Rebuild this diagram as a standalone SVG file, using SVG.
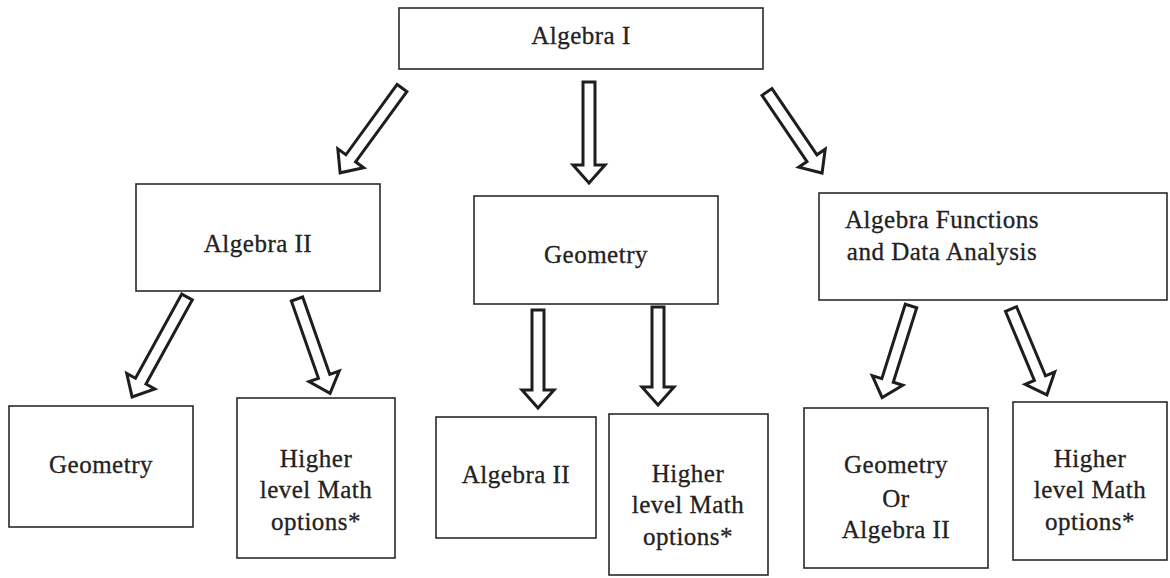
<svg xmlns="http://www.w3.org/2000/svg" width="1170" height="578" viewBox="0 0 1170 578">
<style>
.box{fill:#fff;stroke:#2a2a2a;stroke-width:1.6}
.lbl{font-family:'Liberation Serif','DejaVu Serif',serif;font-size:25px;letter-spacing:0.5px;fill:#222;stroke:#222;stroke-width:0.3;text-anchor:middle}
.arr{fill:#fff;stroke:#1e1e1e;stroke-width:3;stroke-linejoin:miter}
</style>
<rect width="1170" height="578" fill="#fff"/>
<g id="connectors">
<path class="arr" transform="translate(402,88) rotate(36.1)" d="M-6,0 H6 V87 H16 L0,105 L-16,87 H-6 Z"/>
<path class="arr" transform="translate(589,82)" d="M-6,0 H6 V83 H16 L0,101 L-16,83 H-6 Z"/>
<path class="arr" transform="translate(767,92) rotate(-34.2)" d="M-6,0 H6 V80 H16 L0,98 L-16,80 H-6 Z"/>
<path class="arr" transform="translate(187,297) rotate(28.8)" d="M-6,0 H6 V96 H16 L0,114 L-16,96 H-6 Z"/>
<path class="arr" transform="translate(297,299) rotate(-19.3)" d="M-6,0 H6 V82 H16 L0,100 L-16,82 H-6 Z"/>
<path class="arr" transform="translate(538,310)" d="M-6,0 H6 V80 H16 L0,98 L-16,80 H-6 Z"/>
<path class="arr" transform="translate(658,307)" d="M-6,0 H6 V80 H16 L0,98 L-16,80 H-6 Z"/>
<path class="arr" transform="translate(911,306) rotate(17.5)" d="M-6,0 H6 V78 H16 L0,96 L-16,78 H-6 Z"/>
<path class="arr" transform="translate(1011,309) rotate(-22.7)" d="M-6,0 H6 V75 H16 L0,93 L-16,75 H-6 Z"/>
</g>
<g id="algebra1"><rect class="box" x="399" y="8" width="364" height="61"/><text class="lbl" x="581" y="44">Algebra I</text></g>
<g id="algebra2"><rect class="box" x="136" y="184" width="244" height="107"/><text class="lbl" x="258" y="252">Algebra II</text></g>
<g id="geometry"><rect class="box" x="474" y="196" width="244" height="108"/><text class="lbl" x="596" y="263">Geometry</text></g>
<g id="afda"><rect class="box" x="819" y="193" width="348" height="107"/><text class="lbl" x="942" y="228">Algebra Functions</text><text class="lbl" x="942" y="260">and Data Analysis</text></g>
<g id="a2-geometry"><rect class="box" x="9" y="406" width="184" height="121"/><text class="lbl" x="101" y="473">Geometry</text></g>
<g id="a2-higher"><rect class="box" x="237" y="398" width="158" height="160"/><text class="lbl" x="316" y="467">Higher</text><text class="lbl" x="316" y="498">level Math</text><text class="lbl" x="316" y="530">options*</text></g>
<g id="geo-algebra2"><rect class="box" x="436" y="417" width="160" height="121"/><text class="lbl" x="516" y="483">Algebra II</text></g>
<g id="geo-higher"><rect class="box" x="609" y="414" width="159" height="161"/><text class="lbl" x="688" y="482">Higher</text><text class="lbl" x="688" y="513">level Math</text><text class="lbl" x="688" y="545">options*</text></g>
<g id="afda-geo-or-alg2"><rect class="box" x="804" y="408" width="184" height="160"/><text class="lbl" x="896" y="473">Geometry</text><text class="lbl" x="896" y="507">Or</text><text class="lbl" x="896" y="538">Algebra II</text></g>
<g id="afda-higher"><rect class="box" x="1013" y="402" width="154" height="158"/><text class="lbl" x="1090" y="467">Higher</text><text class="lbl" x="1090" y="498">level Math</text><text class="lbl" x="1090" y="530">options*</text></g>
</svg>
